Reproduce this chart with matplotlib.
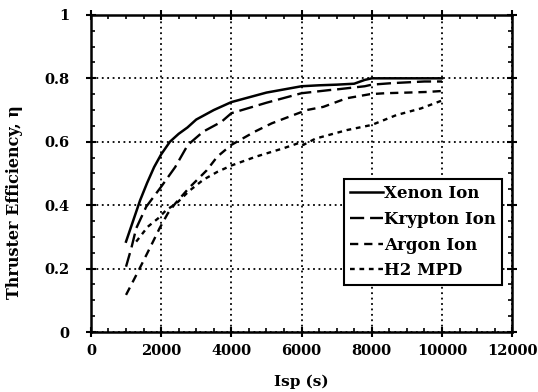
import numpy as np
import matplotlib
matplotlib.use("Agg")
import matplotlib.pyplot as plt
from matplotlib.ticker import MultipleLocator

plt.rcParams["font.family"] = ["DejaVu Serif"]
plt.rcParams["font.weight"] = "bold"

# values
xenon_isp = [1000, 1200, 1400, 1600, 1800, 2000, 2250, 2500, 2750, 3000, 3500, 4000,
             4500, 5000, 5500, 6000, 6500, 7000, 7500, 7800, 8000, 9000, 10000]
xenon_eff = [0.285, 0.35, 0.415, 0.47, 0.52, 0.56, 0.60, 0.625, 0.645, 0.67, 0.70, 0.725,
             0.74, 0.755, 0.765, 0.775, 0.778, 0.78, 0.783, 0.795, 0.80, 0.80, 0.80]

krypton_isp = [1000, 1150, 1290, 1575, 2000, 2400, 2760, 3200, 3720, 4000, 5000, 6000,
               6800, 7000, 7800, 8000, 8600, 9500, 10000]
krypton_eff = [0.206, 0.264, 0.327, 0.395, 0.458, 0.52, 0.59, 0.632, 0.663, 0.69, 0.723,
               0.753, 0.763, 0.765, 0.775, 0.78, 0.785, 0.79, 0.79]

argon_isp = [1000, 1340, 1720, 1955, 2190, 2400, 2800, 3300, 3600, 4000, 4670, 5150,
             5670, 6150, 6620, 7280, 7950, 8380, 9000, 9570, 10000]
argon_eff = [0.117, 0.19, 0.274, 0.327, 0.374, 0.405, 0.455, 0.51, 0.553, 0.59, 0.632,
             0.658, 0.68, 0.70, 0.71, 0.737, 0.75, 0.753, 0.755, 0.757, 0.76]

h2_isp = [1290, 1620, 1910, 2150, 2430, 2800, 3200, 3600, 4000, 4700, 5500, 5950, 6050,
          6400, 7300, 8000, 8700, 9400, 10000]
h2_eff = [0.285, 0.332, 0.358, 0.385, 0.405, 0.445, 0.48, 0.505, 0.525, 0.553, 0.58,
          0.597, 0.59, 0.61, 0.637, 0.653, 0.684, 0.705, 0.73]

fig = plt.figure(figsize=(5.38, 3.92), dpi=100)
ax = fig.add_axes([0.169, 0.153, 0.783, 0.809])

ax.plot(xenon_isp, xenon_eff, color="black", lw=1.8, label="Xenon Ion")
ax.plot(krypton_isp, krypton_eff, color="black", lw=1.7, dashes=(6, 2.5), label="Krypton Ion")
ax.plot(argon_isp, argon_eff, color="black", lw=1.7, dashes=(3.5, 2.5), label="Argon Ion")
ax.plot(h2_isp, h2_eff, color="black", lw=1.7, dashes=(2, 2), label="H2 MPD")

ax.set_xlim(0, 12000)
ax.set_ylim(0, 1)
ax.xaxis.set_major_locator(MultipleLocator(2000))
ax.xaxis.set_minor_locator(MultipleLocator(500))
ax.yaxis.set_minor_locator(MultipleLocator(0.05))
ax.set_yticks([0, 0.2, 0.4, 0.6, 0.8, 1])
ax.set_yticklabels(["0", "0.2", "0.4", "0.6", "0.8", "1"])

ax.grid(True, which="major", color="black", linestyle=(0, (1, 2)), lw=1.3)
ax.tick_params(which="major", direction="inout", length=7, width=1.5,
               top=True, right=True, labelsize=10.5)
ax.tick_params(axis="x", which="major", pad=5)
ax.tick_params(axis="y", which="major", pad=12)
ax.tick_params(which="minor", direction="in", length=3, width=1.2, top=True, right=True)
for lab in ax.get_xticklabels() + ax.get_yticklabels():
    lab.set_fontweight("bold")
for sp in ax.spines.values():
    sp.set_linewidth(1.8)

ax.set_xlabel("Isp (s)", fontsize=11, fontweight="bold")
ax.set_ylabel("Thruster Efficiency, \u03b7", fontsize=11.5, fontweight="bold")
ax.xaxis.set_label_coords(0.5, -0.135)
ax.yaxis.set_label_coords(-0.162, 0.41)

leg = ax.legend(loc="lower right", bbox_to_anchor=(0.975, 0.148), fontsize=12,
                frameon=True, fancybox=False, framealpha=1, edgecolor="black",
                handlelength=2.0, handletextpad=0.05, borderpad=0.35, labelspacing=0.52,
                borderaxespad=0)
leg.get_frame().set_linewidth(1.5)
for t in leg.get_texts():
    t.set_fontweight("bold")

fig.savefig("out.png", dpi=100)
